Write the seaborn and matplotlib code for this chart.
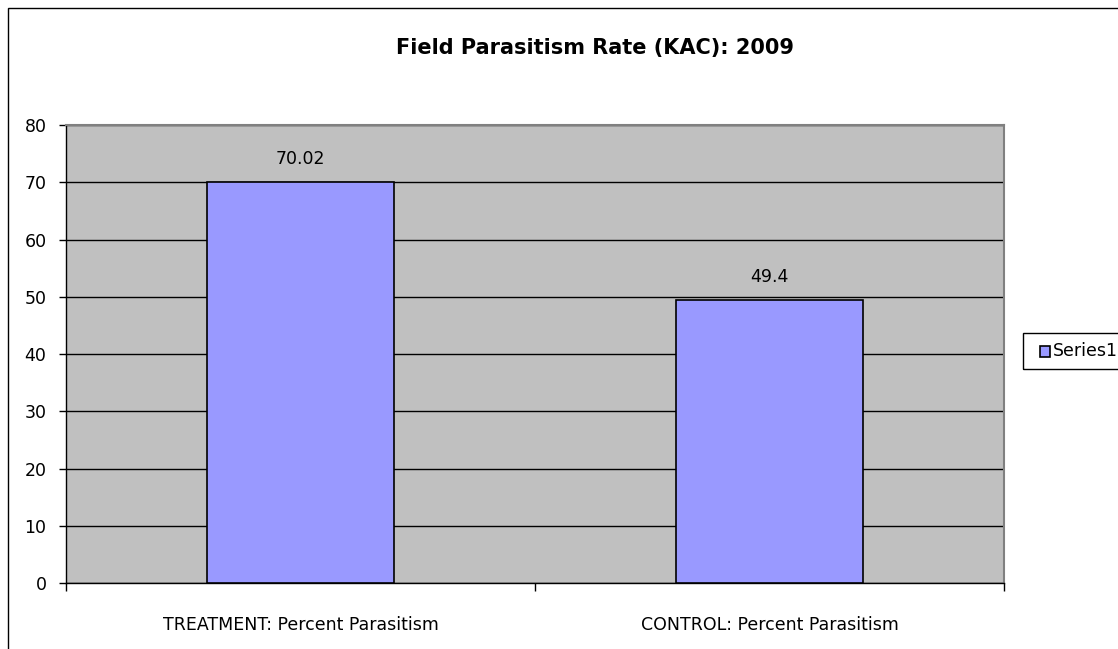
import matplotlib
matplotlib.use("Agg")
import matplotlib.pyplot as plt
import seaborn as sns
import pandas as pd
from matplotlib.patches import Rectangle

categories = ["TREATMENT: Percent Parasitism", "CONTROL: Percent Parasitism"]
values = [70.02, 49.4]
value_labels = ["70.02", "49.4"]
series_name = "Series1"

sns.set_theme(style="white")
plt.rcParams['font.family'] = ['DejaVu Sans']
plt.rcParams['text.color'] = 'black'
plt.rcParams['xtick.color'] = 'black'
plt.rcParams['ytick.color'] = 'black'

df = pd.DataFrame({"cat": categories, "val": values, "series": series_name})

fig = plt.figure(figsize=(11.18, 6.49), dpi=100)
ax = fig.add_axes([66/1118, 1-583/649, (1004-66)/1118, (583-125)/649])
ax.set_facecolor("#C0C0C0")

sns.barplot(data=df, x="cat", y="val", hue="series", palette=["#9999FF"],
            saturation=1, width=0.4, edgecolor="black", linewidth=1.2, ax=ax,
            legend=False, zorder=3)

ax.set_ylim(0, 80)
ax.set_xlim(-0.5, 1.5)
ax.set_yticks(range(0, 81, 10))
ax.yaxis.grid(True, color="black", linewidth=1, zorder=1)
ax.set_axisbelow(True)
ax.set_xlabel("")
ax.set_ylabel("")
ax.set_xticks([0, 1])
ax.set_xticklabels(categories, fontsize=12.5)
ax.tick_params(axis="y", labelsize=12.5, length=5, width=1, color="black",
               direction="out", left=True, pad=9)
ax.tick_params(axis="x", length=0, pad=24)
ax.set_xticks([-0.5, 0.5, 1.5], minor=True)
ax.tick_params(axis="x", which="minor", length=6, width=1, color="black",
               direction="out", bottom=True)

for side in ["left", "bottom"]:
    ax.spines[side].set_color("black")
    ax.spines[side].set_linewidth(1)
for side in ["top", "right"]:
    ax.spines[side].set_color("#808080")
    ax.spines[side].set_linewidth(1.5)

for i, (v, lab) in enumerate(zip(values, value_labels)):
    ax.annotate(lab, (i, v), xytext=(0, 10), textcoords="offset points",
                ha="center", va="bottom", fontsize=12.5)

fig.text(0.532, 1-48/649, "Field Parasitism Rate (KAC): 2009", ha="center",
         va="center", fontsize=15, fontweight="bold")

# figure border
fig.patches.append(Rectangle((8/1118, -0.1), 1.2, 1-8/649+0.1, transform=fig.transFigure,
                             fill=False, edgecolor="black", linewidth=1, clip_on=False))
# legend box
fig.patches.append(Rectangle((1023/1118, 1-369/649), 0.2, 36/649, transform=fig.transFigure,
                             fill=False, edgecolor="black", linewidth=1, clip_on=False))
fig.patches.append(Rectangle((1040/1118, 1-357/649), 10/1118, 11/649, transform=fig.transFigure,
                             facecolor="#9999FF", edgecolor="black", linewidth=1.2,
                             clip_on=False))
fig.text(1053/1118, 1-351/649, series_name, ha="left", va="center", fontsize=12.5)

fig.savefig("out.png", dpi=100)
